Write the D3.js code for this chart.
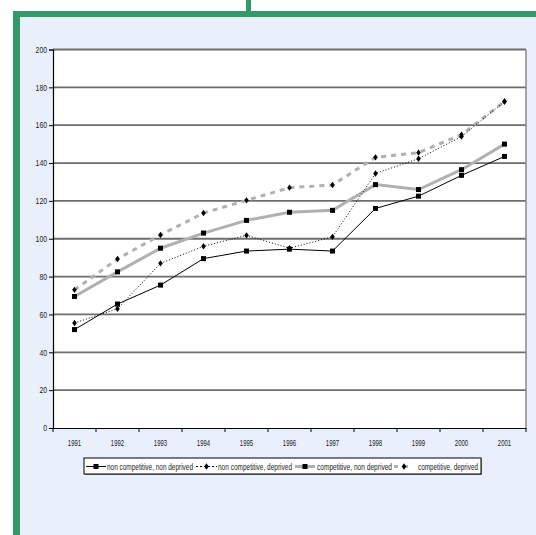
<!DOCTYPE html>
<html><head><meta charset="utf-8">
<script src="https://cdn.jsdelivr.net/npm/d3@7/dist/d3.min.js"></script>
<style>
html,body{margin:0;padding:0;background:#fff;}
svg{display:block;}
text{font-family:"Liberation Sans",Arial,sans-serif;fill:#222;}
</style></head>
<body>
<script>
const years = ["1991","1992","1993","1994","1995","1996","1997","1998","1999","2000","2001"];
const nonCompNonDep = [52, 65.5, 75.5, 89.5, 93.5, 94.5, 93.5, 116, 122.5, 133.5, 143.5];
const nonCompDep    = [55.5, 63, 87, 96, 101.8, 95, 101, 134.5, 142.3, 154, 172.5];
const compNonDep    = [69.5, 82.5, 95, 103, 109.7, 114, 115, 128.6, 126, 136.5, 150];
const compDep       = [73, 89.3, 102, 113.6, 120.3, 127, 128.4, 143, 145.5, 155, 172.5];
const yTicks = [0,20,40,60,80,100,120,140,160,180,200];
const seriesNames = ["non competitive, non deprived","non competitive, deprived","competitive, non deprived","competitive, deprived"];

const W = 536, H = 535;
const svg = d3.select("body").append("svg").attr("width", W).attr("height", H);

// frame
svg.append("rect").attr("x",0).attr("y",0).attr("width",W).attr("height",H).attr("fill","#fff");
svg.append("rect").attr("x",16).attr("y",14).attr("width",W-16).attr("height",H-14).attr("fill","#e9effb");
svg.append("rect").attr("x",13).attr("y",11).attr("width",W-13).attr("height",6).attr("fill","#339966");
svg.append("rect").attr("x",13).attr("y",11).attr("width",7).attr("height",H-11).attr("fill","#339966");
svg.append("rect").attr("x",246).attr("y",0).attr("width",5).attr("height",12).attr("fill","#339966");

const x = d3.scaleBand().domain(years).range([53, 526]).padding(0);
const y = d3.scaleLinear().domain([0, 200]).range([428, 49.5]);
const cx = d => x(d) + x.bandwidth()/2;

// plot background
svg.append("rect").attr("x", x.range()[0]).attr("y", y(200))
  .attr("width", x.range()[1]-x.range()[0]).attr("height", y(0)-y(200)).attr("fill","#fff");

// gridlines
svg.append("g").selectAll("line").data(yTicks.filter(v=>v>0)).join("line")
  .attr("x1", x.range()[0]).attr("x2", x.range()[1])
  .attr("y1", d=>y(d)).attr("y2", d=>y(d))
  .attr("stroke","#6e6e6e").attr("stroke-width",1.8);
// right border
svg.append("line").attr("x1", x.range()[1]).attr("x2", x.range()[1])
  .attr("y1", y(200)).attr("y2", y(0)).attr("stroke","#8a8a8a").attr("stroke-width",1.5);

// y axis
const yAxis = svg.append("g").attr("transform",`translate(${x.range()[0]},0)`)
  .call(d3.axisLeft(y).tickValues(yTicks).tickSize(4).tickPadding(2));
yAxis.select(".domain").attr("stroke","#000").attr("stroke-width",1.2);
yAxis.selectAll(".tick line").attr("stroke","#000");
yAxis.selectAll("text").attr("font-size","8.5px").attr("fill","#222")
  .attr("textLength", d=>String(d).length*3.8).attr("lengthAdjust","spacingAndGlyphs")
  .style("font-family",'"Liberation Sans",Arial,sans-serif');

// x axis
const xAxis = svg.append("g").attr("transform",`translate(0,${y(0)})`)
  .call(d3.axisBottom(x).tickSize(0).tickPadding(12));
xAxis.select(".domain").attr("stroke","#000").attr("stroke-width",1.2);
xAxis.selectAll("text").attr("font-size","8.5px").attr("fill","#222")
  .attr("textLength", 13.3).attr("lengthAdjust","spacingAndGlyphs")
  .style("font-family",'"Liberation Sans",Arial,sans-serif');
const bounds = years.map(d=>x(d)).concat([x.range()[1]]);
svg.append("g").selectAll("line").data(bounds).join("line")
  .attr("x1",d=>d).attr("x2",d=>d).attr("y1",y(0)).attr("y2",y(0)+4)
  .attr("stroke","#000").attr("stroke-width",1);

// series
const series = [
  {name:seriesNames[0], vals:nonCompNonDep, color:"#000", width:1, dash:null, marker:"square"},
  {name:seriesNames[1], vals:nonCompDep, color:"#000", width:1, dash:"1,2", marker:"diamond"},
  {name:seriesNames[2], vals:compNonDep, color:"#b0b0b0", width:3, dash:null, marker:"square"},
  {name:seriesNames[3], vals:compDep, color:"#b0b0b0", width:3, dash:"5,5", marker:"diamond"}
];
const line = d3.line().x((v,i)=>cx(years[i])).y(v=>y(v));
const order = [3,2,0,1];
order.forEach(k=>{
  const s = series[k];
  svg.append("path").datum(s.vals).attr("d", line).attr("fill","none")
    .attr("stroke", s.color).attr("stroke-width", s.width)
    .attr("stroke-dasharray", s.dash);
});
function drawMarker(g, type, px, py){
  if(type==="square"){
    g.append("rect").attr("x",px-2.5).attr("y",py-2.5).attr("width",5).attr("height",5).attr("fill","#000");
  } else {
    g.append("path").attr("d",`M${px},${py-3.2}L${px+2.3},${py}L${px},${py+3.2}L${px-2.3},${py}Z`).attr("fill","#000");
  }
}
order.forEach(k=>{
  const s = series[k];
  const g = svg.append("g");
  s.vals.forEach((v,i)=>drawMarker(g, s.marker, cx(years[i]), y(v)));
});

// legend
const lg = svg.append("g");
lg.append("rect").attr("x",85).attr("y",459).attr("width",397).attr("height",16).attr("fill","#888");
lg.append("rect").attr("x",84).attr("y",458).attr("width",397).attr("height",16)
  .attr("fill","#fff").attr("stroke","#000").attr("stroke-width",1);
const ly = 466.5;
const items = [
  {s:series[0], x1:86, x2:106, mx:96, tx:107, tw:86, ldash:null},
  {s:series[1], x1:196, x2:217, mx:206.5, tx:218, tw:74, ldash:"2,2"},
  {s:series[2], x1:295, x2:315, mx:305, tx:317, tw:75, ldash:null},
  {s:series[3], x1:394, x2:414, mx:404, tx:418, tw:60, ldash:"4,6"}
];
items.forEach(it=>{
  lg.append("line").attr("x1",it.x1).attr("x2",it.x2).attr("y1",ly).attr("y2",ly)
    .attr("stroke",it.s.color).attr("stroke-width",it.s.width).attr("stroke-dasharray",it.ldash);
  drawMarker(lg, it.s.marker, it.mx, ly);
  lg.append("text").attr("x",it.tx).attr("y",ly+3).attr("font-size","8.5px")
    .attr("textLength", it.tw).attr("lengthAdjust","spacingAndGlyphs").text(it.s.name);
});
</script>
</body></html>
